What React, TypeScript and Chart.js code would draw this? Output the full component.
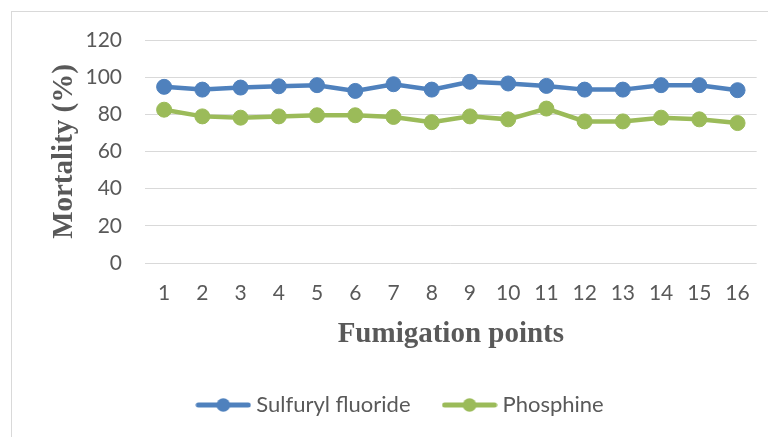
import React, { useEffect, useRef } from "react";
import { Chart, registerables } from "chart.js";

Chart.register(...registerables);

const categories = ["1", "2", "3", "4", "5", "6", "7", "8", "9", "10", "11", "12", "13", "14", "15", "16"];
const sulfurylFluoride = [94.8, 93.3, 94.4, 95.1, 95.7, 92.6, 96.2, 93.3, 97.5, 96.6, 95.3, 93.3, 93.3, 95.7, 95.7, 93.0];
const phosphine = [82.5, 78.9, 78.2, 78.9, 79.5, 79.5, 78.6, 75.8, 78.9, 77.3, 83.1, 76.2, 76.2, 78.2, 77.3, 75.3];
const seriesNames = ["Sulfuryl fluoride", "Phosphine"];
const seriesColors = ["#4f81bd", "#9bbb59"];
const yTitle = "Mortality (%)";
const xTitle = "Fumigation points";

const TICK_FONT = "Lato, 'Open Sans', sans-serif";
const TITLE_FONT = "'Liberation Serif', 'Times New Roman', serif";
const TEXT_COLOR = "#595959";

function legendSample(color: string): HTMLCanvasElement {
  const c = document.createElement("canvas");
  c.width = 56;
  c.height = 16;
  const ctx = c.getContext("2d")!;
  ctx.strokeStyle = color;
  ctx.lineWidth = 5;
  ctx.lineCap = "round";
  ctx.beginPath();
  ctx.moveTo(3, 8);
  ctx.lineTo(53, 8);
  ctx.stroke();
  ctx.fillStyle = color;
  ctx.beginPath();
  ctx.arc(28, 8, 6.8, 0, Math.PI * 2);
  ctx.fill();
  return c;
}

export default function App() {
  const ref = useRef<HTMLCanvasElement | null>(null);

  useEffect(() => {
    if (!ref.current) return;
    const samples = seriesColors.map(legendSample);
    const chart = new Chart(ref.current, {
      type: "line",
      data: {
        labels: categories,
        datasets: [sulfurylFluoride, phosphine].map((d, i) => ({
          label: seriesNames[i],
          data: d,
          borderColor: seriesColors[i],
          backgroundColor: seriesColors[i],
          borderWidth: 4.5,
          pointRadius: 7.5,
          pointBorderWidth: 1,
          pointBackgroundColor: seriesColors[i],
          pointBorderColor: seriesColors[i],
          tension: 0,
        })),
      },
      options: {
        responsive: false,
        animation: false,
        layout: { padding: { left: 37, right: 0, top: 40, bottom: 11 } },
        plugins: {
          tooltip: { enabled: false },
          legend: {
            position: "bottom",
            labels: {
              usePointStyle: true,
              pointStyleWidth: 44,
              padding: 37,
              color: TEXT_COLOR,
              font: { family: TICK_FONT, size: 22 },
              generateLabels: (ch: any) =>
                Chart.defaults.plugins.legend.labels
                  .generateLabels(ch)
                  .map((l: any, i: number) => ({ ...l, pointStyle: samples[i] })),
            },
          },
        },
        scales: {
          x: {
            type: "category",
            offset: true,
            grid: { display: false, drawTicks: false },
            border: { display: false },
            ticks: {
              color: TEXT_COLOR,
              font: { family: TICK_FONT, size: 21 },
              padding: 18,
              maxRotation: 0,
              autoSkip: false,
            },
            title: {
              display: true,
              text: xTitle,
              color: TEXT_COLOR,
              font: { family: TITLE_FONT, size: 29, weight: "bold" },
              padding: { top: 4, bottom: 5 },
            },
            afterFit: (s: any) => {
              s.height = 94;
            },
          },
          y: {
            min: 0,
            max: 120,
            grid: { color: "#d9d9d9", lineWidth: 1, drawTicks: false },
            border: { display: false },
            ticks: {
              stepSize: 20,
              color: TEXT_COLOR,
              font: { family: TICK_FONT, size: 21 },
              padding: 23,
            },
            title: {
              display: true,
              text: yTitle,
              color: TEXT_COLOR,
              font: { family: TITLE_FONT, size: 29, weight: "bold" },
              padding: { top: 10.6, bottom: 0 },
            },
            afterFit: (s: any) => {
              s.width = 108;
            },
          },
        },
      },
    });
    return () => chart.destroy();
  }, []);

  return (
    <div style={{ position: "fixed", left: 0, top: 0, width: 768, height: 437, background: "#fff", overflow: "hidden" }}>
      <div
        style={{
          position: "absolute",
          left: 11,
          top: 11,
          width: 800,
          height: 500,
          borderLeft: "1px solid #d9d9d9",
          borderTop: "1px solid #d9d9d9",
        }}
      />
      <canvas ref={ref} width={768} height={437} style={{ position: "absolute", left: 0, top: 0 }} />
    </div>
  );
}
